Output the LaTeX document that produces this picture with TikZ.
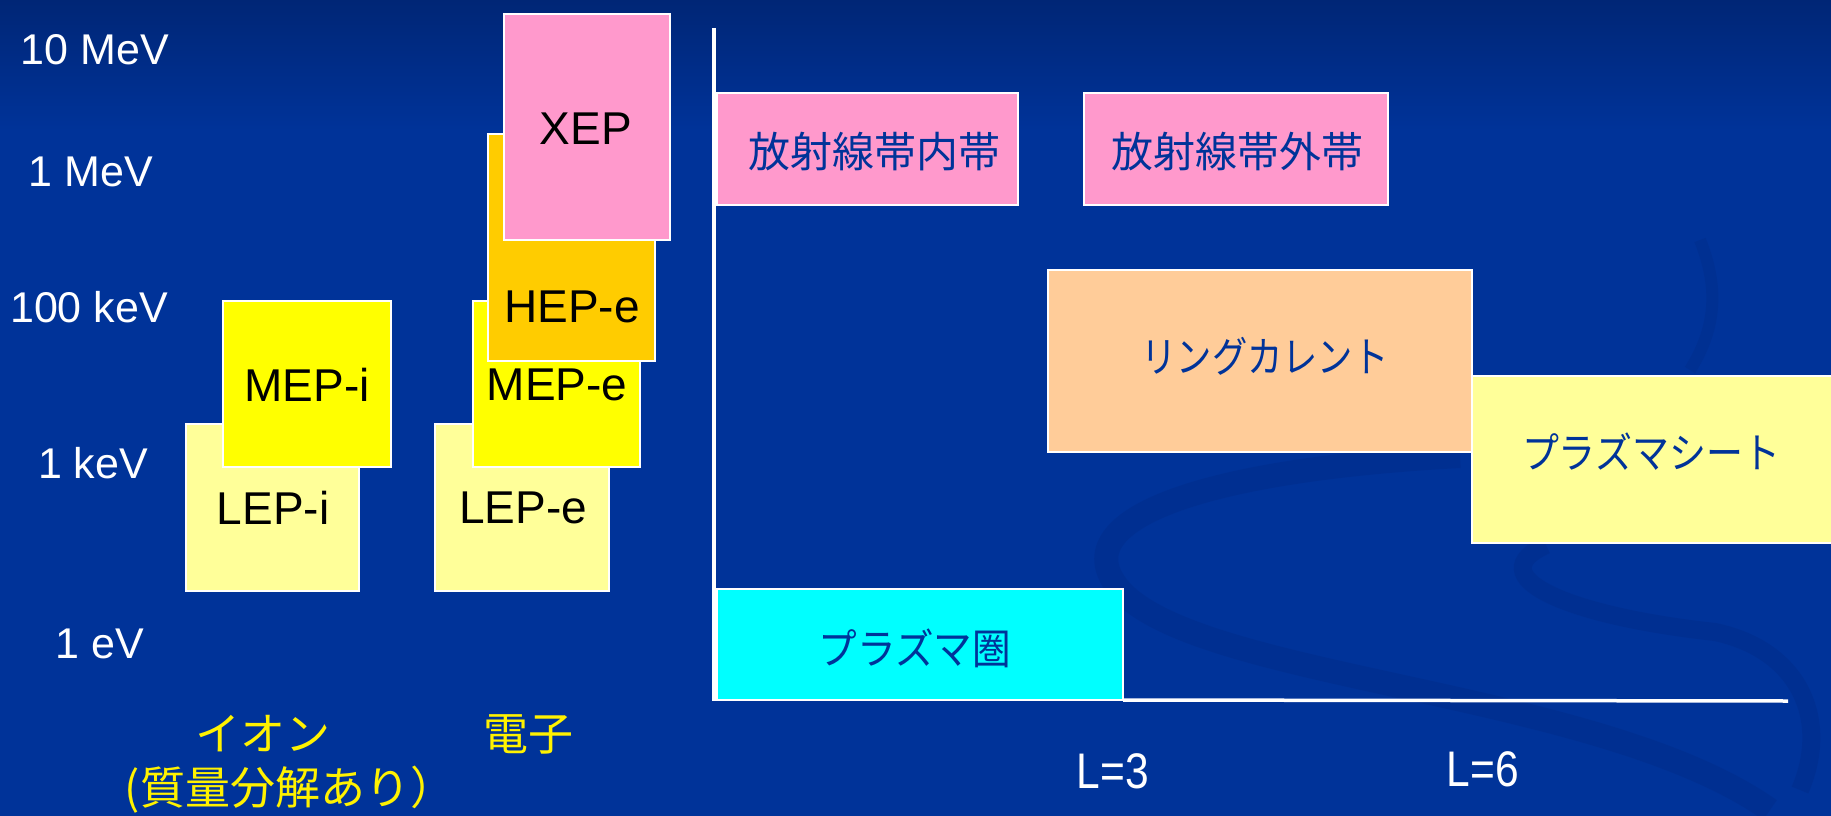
\documentclass[tikz,border=0pt]{standalone}
\usepackage{fontspec}
\setmainfont{Liberation Sans}
\newfontfamily\jp{Noto Sans CJK JP}
\usetikzlibrary{fit}
\definecolor{bg}{RGB}{0,51,153}
\definecolor{bgtop}{RGB}{0,38,118}
\definecolor{pinkc}{RGB}{255,153,204}
\definecolor{hepc}{RGB}{255,204,0}
\definecolor{mepc}{RGB}{255,255,0}
\definecolor{lepc}{RGB}{255,255,153}
\definecolor{ringc}{RGB}{255,204,153}
\definecolor{cyanc}{RGB}{0,255,255}
\definecolor{navytxt}{RGB}{0,51,153}
\definecolor{swirl}{RGB}{0,44,136}
\begin{document}
\begin{tikzpicture}[x=1pt,y=-1pt,
  box/.style={draw=white, line width=1.5pt, inner sep=0pt, outer sep=0pt},
  axislabel/.style={text=white, font=\fontsize{43}{50}\selectfont, inner sep=0pt},
  boxlabel/.style={text=black, font=\fontsize{46}{52}\selectfont, inner sep=0pt},
  jplabel/.style={text=navytxt, font=\jp\fontsize{42}{48}\selectfont, inner sep=0pt},
  species/.style={text=yellow, font=\jp\fontsize{45}{50}\selectfont, inner sep=0pt},
  Llabel/.style={text=white, font=\fontsize{50}{56}\selectfont, inner sep=0pt, xscale=0.85},
  axisline/.style={draw=white, line width=3.5pt}]
\useasboundingbox (0,0) rectangle (1831,816);
% background
\fill[bg] (0,0) rectangle (1831,816);
\shade[top color=bgtop, bottom color=bg] (0,0) rectangle (1831,130);
\begin{scope}
\clip (0,0) rectangle (1831,816);
\draw[swirl, line width=24pt, opacity=0.45] (1460,456) .. controls (1200,470) and (1060,520) .. (1120,590) .. controls (1200,680) and (1600,690) .. (1770,810);
\draw[swirl, line width=18pt, opacity=0.45] (1546,545) .. controls (1480,575) and (1560,615) .. (1715,632) .. controls (1800,650) and (1830,720) .. (1800,790);
\draw[swirl, line width=12pt, opacity=0.4] (1700,240) .. controls (1720,290) and (1715,330) .. (1690,370);
\end{scope}
% axes
\coordinate (ytop) at (714,28);
\coordinate (org) at (714,701);
\coordinate (xend) at (1788,701);
\draw[axisline] (ytop) -- (org);
% left: ions
\node[box, fill=lepc, fit={(186,424)(359,591)}] (lepi) {};
\node[box, fill=mepc, fit={(223,301)(391,467)}] (mepi) {};
% left: electrons
\node[box, fill=lepc, fit={(435,424)(609,591)}] (lepe) {};
\node[box, fill=mepc, fit={(473,301)(640,467)}] (mepe) {};
\node[box, fill=hepc, fit={(488,134)(655,361)}] (hepe) {};
\node[box, fill=pinkc, fit={(504,14)(670,240)}] (xep) {};
% right: regions
\node[box, fill=pinkc, fit={(717,93)(1018,205)}] (inner) {};
\node[box, fill=pinkc, fit={(1084,93)(1388,205)}] (outer) {};
\node[box, fill=ringc, fit={(1048,270)(1472,452)}] (ring) {};
\node[box, fill=lepc, fit={(1472,376)(1840,543)}] (psheet) {};
\node[box, fill=cyanc, fit={(717,589)(1123,700)}] (psph) {};
\draw[axisline] (psph.south east) -- (xend);
% axis labels
\node[axislabel] (e10m) at (95,50) {10 MeV};
\node[axislabel] (e1m) at (91,172) {1 MeV};
\node[axislabel] (e100k) at (89,307) {100 keV};
\node[axislabel] (e1k) at (93,463) {1 keV};
\node[axislabel] (e1) at (100,644) {1 eV};
% box labels
\node[boxlabel] (txep) at (586,129) {XEP};
\node[boxlabel] (thep) at (572,307) {HEP-e};
\node[boxlabel] (tmepe) at (557,385) {MEP-e};
\node[boxlabel] (tlepe) at (523,508) {LEP-e};
\node[boxlabel] (tmepi) at (307,385) {MEP-i};
\node[boxlabel] (tlepi) at (273,508) {LEP-i};
% species
\node[species] (ion) at (263,734) {イオン};
\node[species] (ion2) at (290,790) {(質量分解あり）};
\node[species] (elec) at (528,734) {電子};
% region labels
\node[jplabel] (tinner) at (874,152) {放射線帯内帯};
\node[jplabel] (touter) at (1237,152) {放射線帯外帯};
\node[jplabel, xscale=0.84] (tring) at (1265,356) {リングカレント};
\node[jplabel, xscale=0.88] (tsheet) at (1651,452) {プラズマシート};
\node[jplabel, xscale=0.92] (tsph) at (915,648) {プラズマ圏};
% L labels
\node[Llabel] (l3) at (1113,771) {L=3};
\node[Llabel] (l6) at (1483,769) {L=6};
\end{tikzpicture}
\end{document}
